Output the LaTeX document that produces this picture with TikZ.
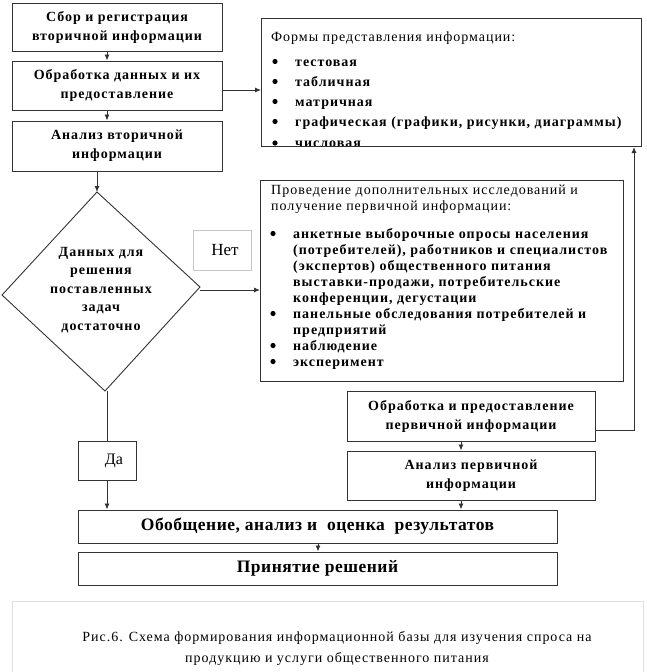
\documentclass[tikz,border=0pt]{standalone}
\usepackage{fontspec}
\setmainfont{Liberation Serif}
\newfontfamily\wideserif[LetterSpace=7]{Liberation Serif}
\newfontfamily\midserif[LetterSpace=3]{Liberation Serif}
\usetikzlibrary{arrows.meta}
\newcommand{\linesT}[1]{\begin{tabular}[t]{@{}l@{}}#1\end{tabular}}
\tikzset{
  x=1pt, y=-1pt,
  line/.style={line width=0.9pt, draw=black!80},
  arr/.style={line, -{Latex[length=6pt,width=5pt]}},
  boxframe/.style={draw=black!80, line width=1pt},
  boxtext/.style={font=\wideserif\bfseries\fontsize{14}{19}\selectfont, align=center},
  listtext/.style={font=\wideserif\bfseries\fontsize{14}{16}\selectfont, anchor=base west, inner sep=0pt},
  headtext/.style={font=\wideserif\fontsize{14}{16.5}\selectfont, anchor=base west, inner sep=0pt},
  bigtext/.style={font=\midserif\bfseries\fontsize{17.5}{20}\selectfont},
  bul/.style={fill=black}
}
\begin{document}
\begin{tikzpicture}
\useasboundingbox (0,0) rectangle (646,672);
% left column boxes
\node[boxframe, minimum width=210, minimum height=48, boxtext] (b1) at (117,27) {Сбор и регистрация\\вторичной информации};
\node[boxframe, minimum width=210, minimum height=49, boxtext] (b2) at (117,85.5) {Обработка данных и их\\предоставление};
\node[boxframe, minimum width=210, minimum height=50, boxtext] (b3) at (117,146) {Анализ вторичной\\информации};
% diamond
\coordinate (dt) at (97,192);
\coordinate (dr) at (200,287);
\coordinate (db) at (105,391);
\coordinate (dl) at (2,295);
\draw[boxframe, line width=0.9pt] (dt) -- (dr) -- (db) -- (dl) -- cycle;
\node[boxtext, font=\wideserif\bfseries\fontsize{14}{18.5}\selectfont] (dtext) at (101,290) {Данных для\\решения\\поставленных\\задач\\достаточно};
% forms box
\node[boxframe, minimum width=380, minimum height=128, anchor=north west, inner sep=0pt] (forms) at (261,18) {};
\begin{scope}
\clip (261,18) rectangle (641,145.5);
\node[headtext] (fhead) at (271,41) {Формы представления информации:};
\foreach \yy/\tt [count=\i] in {66/тестовая,86/табличная,106/матричная,126/{графическая (графики, рисунки, диаграммы)},147.5/числовая}{
  \fill[bul] (275,\yy-4.5) circle (2.6);
  \node[listtext] (fi\i) at (295,\yy) {\tt};
}
\end{scope}
% research box
\node[boxframe, minimum width=363, minimum height=201, anchor=north west, inner sep=0pt] (res) at (260,180) {};
\node[headtext] (rhead) at (271,194) {\linesT{Проведение дополнительных исследований и\\получение первичной информации:}};
\fill[bul] (273,233.5) circle (2.6);
\node[listtext] (r1) at (293,238) {\linesT{анкетные выборочные опросы населения\\(потребителей), работников и специалистов\\(экспертов) общественного питания\\выставки-продажи, потребительские\\конференции, дегустации}};
\fill[bul] (273,313.5) circle (2.6);
\node[listtext] (r2) at (293,318) {\linesT{панельные обследования потребителей и\\предприятий}};
\fill[bul] (273,345.5) circle (2.6);
\node[listtext] (r3) at (293,350) {наблюдение};
\fill[bul] (273,361.5) circle (2.6);
\node[listtext] (r4) at (293,366) {эксперимент};
% Net box
\node[draw=black!22, line width=0.8pt, minimum width=58, minimum height=40, font=\fontsize{17}{18}\selectfont] (net) at (222,250) {\hspace*{6pt}Нет};
% primary boxes
\node[boxframe, minimum width=248, minimum height=50, boxtext] (p1) at (471,416) {Обработка и предоставление\\первичной информации};
\node[boxframe, minimum width=248, minimum height=49, boxtext] (p2) at (471,475.5) {Анализ первичной\\информации};
% Da box
\node[boxframe, line width=0.9pt, minimum width=58, minimum height=39, font=\fontsize{16}{18}\selectfont] (da) at (107,460.5) {\hspace*{14pt}Да};
% bottom boxes
\node[boxframe, minimum width=479, minimum height=33, bigtext] (sum) at (317.5,526.5) {Обобщение, анализ и~ оценка~ результатов};
\node[boxframe, minimum width=479, minimum height=33, bigtext] (dec) at (317.5,568.5) {Принятие решений};
% caption frame
\draw[draw=black!12, line width=1pt] (12,675) -- (12,601) -- (643,601) -- (643,675);
\node[font=\wideserif\fontsize{14}{21}\selectfont, align=center] (cap) at (337,648) {Рис.6. Схема формирования информационной базы для изучения спроса на\\продукцию и услуги общественного питания};
% connectors
\draw[arr] (b1.south -| 107,0) -- (b2.north -| 107,0);
\draw[arr] (b2.south -| 107,0) -- (b3.north -| 107,0);
\draw[arr] (b3.south -| dt) -- (dt);
\draw[arr] (b2.east |- 0,90) -- (forms.west |- 0,90);
\draw[arr] (200,290) -- (res.west |- 0,290);
\draw[line] (p1.east |- 0,430) -- (634,430) -- (634,300);
\draw[arr] (634,300) -- (forms.south -| 634,0);
\draw[arr] (p1.south -| 461,0) -- (p2.north -| 461,0);
\draw[arr] (p2.south -| 461,0) -- (sum.north -| 461,0);
\draw[line] (db -| 107,0) -- (da.north -| 107,0);
\draw[arr] (da.south -| 107,0) -- (sum.north -| 107,0);
\draw[arr] (sum.south -| 318,0) -- (dec.north -| 318,0);
\end{tikzpicture}
\end{document}
